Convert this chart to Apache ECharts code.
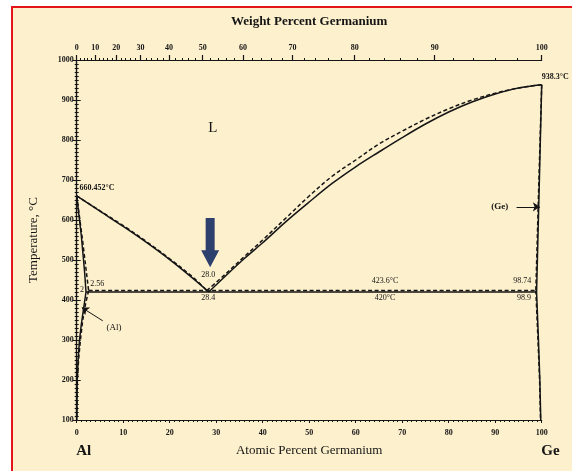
<!DOCTYPE html>
<html>
<head>
<meta charset="utf-8">
<script src="https://cdn.jsdelivr.net/npm/echarts@6/dist/echarts.min.js"></script>
<style>
  html, body { margin: 0; padding: 0; background: #ffffff; }
  #frame { position: absolute; left: 11px; top: 6px; width: 600px; height: 500px;
           background: #fdf0cd; border-left: 2px solid #e3151a; border-top: 2px solid #e3151a; }
  #chart { position: absolute; left: 0; top: 0; width: 572px; height: 471px; }
</style>
</head>
<body>
<div id="frame"></div>
<div id="chart"></div>
<script>
// Al–Ge phase diagram (temperature vs. composition)

// Liquidus, solid line assessment
const liqAlSolid = [[0, 660.452], [5, 622], [10, 584], [15, 544], [20, 501], [25, 454], [28.4, 420]];
const liqGeSolid = [[28.4, 420], [32, 460], [36, 503], [40, 543], [45, 596], [50, 645], [55, 692],
                    [60, 733], [65, 770], [70, 806], [75, 840], [80, 870], [85, 895], [90, 915],
                    [95, 930], [100, 938.3]];
// Liquidus, dashed line assessment
const liqAlDashed = [[0, 660.452], [5, 623], [10, 586], [15, 546], [20, 503], [25, 457], [28.0, 423.6]];
const liqGeDashed = [[28.0, 423.6], [32, 465], [36, 508], [40, 550], [45, 605], [50, 660], [55, 710],
                     [60, 750], [65, 790], [70, 822], [75, 852], [80, 878], [85, 900], [90, 917],
                     [95, 930], [100, 938.3]];
// (Al) solidus and solvus
const alSolidusSolid = [[0, 660.452], [1.0, 560], [1.7, 470], [2.0, 420]];
const alSolvusSolid = [[2.0, 420], [1.5, 380], [1.0, 340], [0.6, 300], [0.3, 250], [0.1, 200], [0.02, 100]];
const alSolidusDashed = [[0, 660.452], [1.2, 555], [2.56, 423.6]];
const alSolvusDashed = [[2.56, 423.6], [1.9, 390], [1.3, 350], [0.8, 300], [0.4, 250], [0.15, 200], [0.03, 100]];
// (Ge) solidus and solvus
const geSolidusSolid = [[100, 938.3], [99.5, 700], [98.9, 420]];
const geSolvusSolid = [[98.9, 420], [99.3, 300], [99.6, 200], [99.8, 100]];
const geSolidusDashed = [[100, 938.3], [99.4, 700], [98.74, 423.6]];
const geSolvusDashed = [[98.74, 423.6], [99.2, 300], [99.55, 200], [99.75, 100]];
// Eutectic isotherms
const eutecticSolid = [[2.0, 420], [98.9, 420]];
const eutecticDashed = [[2.56, 423.6], [98.74, 423.6]];

// Axis ticks
const atomicTicks = [0, 10, 20, 30, 40, 50, 60, 70, 80, 90, 100];
const weightTicks = [0, 10, 20, 30, 40, 50, 60, 70, 80, 90, 100];
const tempTicks = [100, 200, 300, 400, 500, 600, 700, 800, 900, 1000];

// Text annotations [at.% Ge, °C, text, align, size, weight]
const notes = [
  [29.3, 830, 'L', 'center', 15, 'normal'],
  [0.6, 681, '660.452°C', 'left', 8, 'bold'],
  [100, 958, '938.3°C', 'left', 8, 'bold'],
  [28.3, 463, '28.0', 'center', 8, 'normal'],
  [28.3, 406, '28.4', 'center', 8, 'normal'],
  [66.3, 447, '423.6°C', 'center', 8, 'normal'],
  [66.3, 406, '420°C', 'center', 8, 'normal'],
  [95.8, 447, '98.74', 'center', 8, 'normal'],
  [96.2, 406, '98.9', 'center', 8, 'normal'],
  [2.9, 441, '2.56', 'left', 8, 'normal'],
  [0.7, 426, '2', 'left', 8, 'normal'],
  [8.0, 331, '(Al)', 'center', 9, 'normal'],
  [91.0, 633, '(Ge)', 'center', 9, 'bold'],
  [1.5, 22, 'Al', 'center', 15, 'bold'],
  [101.9, 22, 'Ge', 'center', 15, 'bold']
];
// Pointer arrows to the terminal solid solutions
const pointers = [
  [[5.6, 348], [1.1, 381]],
  [[94.6, 633], [99.6, 633]]
];
// Highlight arrow above the eutectic point: [x, top °C, tip °C]
const highlight = [[28.7, 605, 482]];

const molarAl = 26.98, molarGe = 72.63;
function wtToAt(w) {
  const nGe = w / molarGe, nAl = (100 - w) / molarAl;
  return 100 * nGe / (nGe + nAl);
}
const weightMinor = [];
for (let w = 0; w <= 100; w += 2) weightMinor.push(wtToAt(w));

const FONT = '"Liberation Serif", "DejaVu Serif", serif';
const INK = '#151515';

function curve(data, dashed, smooth) {
  return {
    type: 'line', data: data, showSymbol: false, silent: true,
    smooth: smooth ? 0.35 : false,
    lineStyle: { color: INK, width: 1.5, type: dashed ? [4, 2.5] : 'solid' },
    z: dashed ? 3 : 4
  };
}

const chart = echarts.init(document.getElementById('chart'), null, { renderer: 'canvas' });
chart.setOption({
  backgroundColor: 'transparent',
  animation: false,
  grid: { left: 76.7, right: 30.3, top: 60, bottom: 51 },
  xAxis: [
    {
      type: 'value', position: 'bottom', min: 0, max: 100, interval: 10,
      name: 'Atomic Percent Germanium', nameLocation: 'middle', nameGap: 24,
      nameTextStyle: { fontFamily: FONT, fontSize: 13, color: INK },
      axisLine: { lineStyle: { color: INK, width: 1.2 } },
      axisTick: { show: true, length: 3, lineStyle: { color: INK } },
      minorTick: { show: true, splitNumber: 10, length: 2, lineStyle: { color: INK } },
      splitLine: { show: false },
      axisLabel: { fontFamily: FONT, fontSize: 8, fontWeight: 'bold', color: INK, margin: 9,
                   customValues: atomicTicks, formatter: function (v) { return String(v); } }
    },
    {
      type: 'value', position: 'top', min: 0, max: 100,
      name: 'Weight Percent Germanium', nameLocation: 'middle', nameGap: 32,
      nameTextStyle: { fontFamily: FONT, fontSize: 13, fontWeight: 'bold', color: INK },
      axisLine: { lineStyle: { color: INK, width: 1.2 } },
      axisTick: { show: true, length: 2, customValues: weightMinor, lineStyle: { color: INK } },
      splitLine: { show: false },
      axisLabel: {
        fontFamily: FONT, fontSize: 8, fontWeight: 'bold', color: INK, margin: 8,
        customValues: weightTicks.map(wtToAt),
        formatter: function (v) {
          let best = weightTicks[0];
          weightTicks.forEach(function (w) { if (Math.abs(wtToAt(w) - v) < Math.abs(wtToAt(best) - v)) best = w; });
          return String(best);
        }
      }
    },
    {
      type: 'value', position: 'top', min: 0, max: 100,
      axisLine: { show: false },
      axisTick: { show: true, length: 5, customValues: weightTicks.map(wtToAt), lineStyle: { color: INK, width: 1.2 } },
      axisLabel: { show: false },
      splitLine: { show: false }
    }
  ],
  yAxis: [
    {
      type: 'value', position: 'left', min: 100, max: 1000, interval: 100,
      name: 'Temperature, °C', nameLocation: 'middle', nameGap: 37,
      nameTextStyle: { fontFamily: FONT, fontSize: 13, color: INK },
      axisLine: { show: true, lineStyle: { color: INK, width: 1.2 } },
      axisTick: { show: true, length: 4, lineStyle: { color: INK } },
      minorTick: { show: true, splitNumber: 10, length: 2, lineStyle: { color: INK } },
      splitLine: { show: false },
      axisLabel: { fontFamily: FONT, fontSize: 8, fontWeight: 'bold', color: INK, margin: 3,
                   customValues: tempTicks, formatter: function (v) { return String(v); } }
    },
    {
      type: 'value', position: 'right', min: 100, max: 1000, interval: 100,
      axisLine: { show: true, lineStyle: { color: INK, width: 1.2 } },
      axisTick: { show: true, length: 4, lineStyle: { color: INK } },
      minorTick: { show: true, splitNumber: 10, length: 2, lineStyle: { color: INK } },
      splitLine: { show: false },
      axisLabel: { show: false }
    }
  ],
  series: [
    curve(liqAlSolid, false, true),
    curve(liqGeSolid, false, true),
    curve(liqAlDashed, true, true),
    curve(liqGeDashed, true, true),
    curve(alSolidusSolid, false, false),
    curve(alSolvusSolid, false, false),
    curve(alSolidusDashed, true, false),
    curve(alSolvusDashed, true, false),
    curve(geSolidusSolid, false, false),
    curve(geSolvusSolid, false, false),
    curve(geSolidusDashed, true, false),
    curve(geSolvusDashed, true, false),
    curve(eutecticSolid, false, false),
    curve(eutecticDashed, true, false),
    {
      type: 'lines', coordinateSystem: 'cartesian2d', silent: true,
      symbol: ['none', 'arrow'], symbolSize: 7,
      lineStyle: { color: INK, width: 1, curveness: 0, opacity: 1 },
      data: pointers.map(function (p) { return { coords: p }; }),
      z: 5
    },
    {
      type: 'custom', silent: true, clip: false, z: 6,
      data: highlight,
      renderItem: function (params, api) {
        const top = api.coord([api.value(0), api.value(1)]);
        const tip = api.coord([api.value(0), api.value(2)]);
        const x = top[0], hw = 4.5, headW = 9, headH = 17;
        const base = tip[1] - headH;
        return {
          type: 'polygon',
          shape: { points: [[x - hw, top[1]], [x + hw, top[1]], [x + hw, base], [x + headW, base],
                            [x, tip[1]], [x - headW, base], [x - hw, base]] },
          style: { fill: '#2d3f6c' }
        };
      }
    },
    {
      type: 'custom', silent: true, clip: false, z: 7,
      data: notes.map(function (n) { return [n[0], n[1]]; }),
      renderItem: function (params, api) {
        const n = notes[params.dataIndex];
        const p = api.coord([api.value(0), api.value(1)]);
        return {
          type: 'text', x: p[0], y: p[1],
          style: {
            text: n[2], align: n[3], verticalAlign: 'middle',
            font: n[5] + ' ' + n[4] + 'px ' + FONT, fill: INK
          }
        };
      }
    }
  ]
});
</script>
</body>
</html>
